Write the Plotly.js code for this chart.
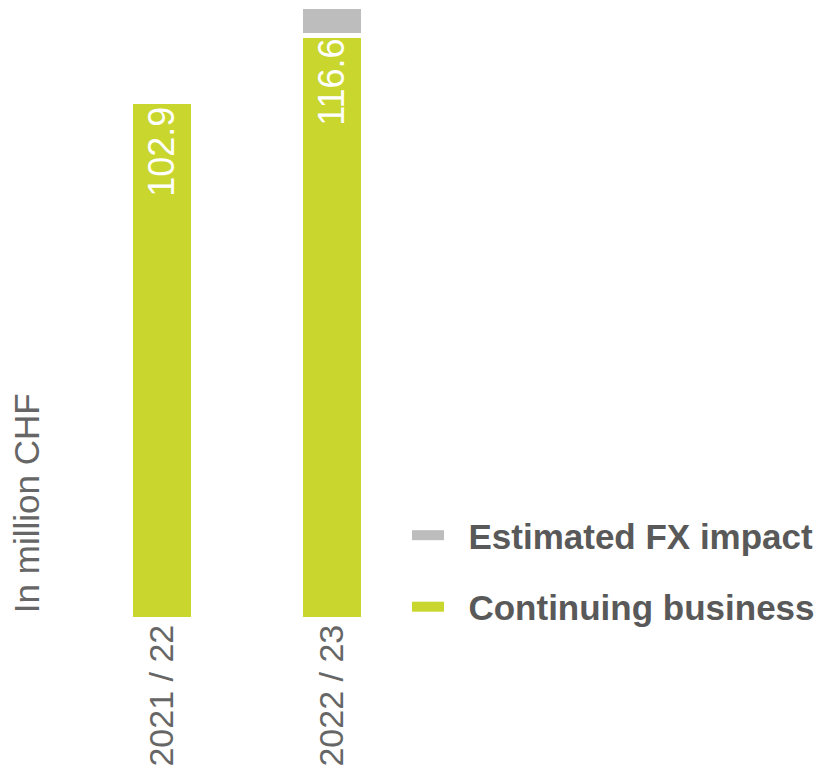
<!DOCTYPE html>
<html>
<head>
<meta charset="utf-8">
<script src="https://cdn.plot.ly/plotly-3.0.1.min.js"></script>
<style>html,body{margin:0;padding:0;background:#fff}#chart{width:820px;height:768px}</style>
</head>
<body>
<div id="chart"></div>
<script>
// Data
const categories = ["2021 / 22", "2022 / 23"];
const continuingBusiness = [102.9, 116.6];
const fxImpact = [null, 5.7];
const seriesNames = ["Continuing business", "Estimated FX impact"];
const yAxisTitle = "In million CHF";

const GREEN = "#c8d62d";
const GREY = "#bdbdbd";
const FONT = "'Liberation Sans', Arial, sans-serif";
const PAD = "\u00a0\u00a0";

const traces = [
  {
    type: "bar",
    x: categories,
    y: continuingBusiness,
    name: seriesNames[0],
    marker: {color: GREEN, line: {width: 0}},
    width: 0.34,
    text: continuingBusiness.map(v => v.toFixed(1)),
    textposition: "inside",
    insidetextanchor: "end",
    textangle: -90,
    textfont: {family: FONT, size: 36, color: "#ffffff"},
    showlegend: false,
    hoverinfo: "skip"
  },
  {
    type: "bar",
    x: categories,
    y: fxImpact,
    name: seriesNames[1],
    marker: {color: GREY, line: {width: 5, color: "#ffffff"}},
    width: 0.369,
    showlegend: false,
    hoverinfo: "skip"
  },
  // legend entries
  {
    type: "scatter", mode: "lines", x: [null], y: [null],
    name: PAD + seriesNames[1], legendgroup: "fx",
    line: {color: GREY, width: 10}, hoverinfo: "skip"
  },
  {
    type: "scatter", mode: "lines", x: [null], y: [null],
    name: PAD + seriesNames[0], legendgroup: "cb",
    line: {color: GREEN, width: 10}, hoverinfo: "skip"
  }
];

const layout = {
  width: 820, height: 768,
  margin: {l: 77, r: 0, t: 0, b: 151, pad: 0},
  paper_bgcolor: "#ffffff", plot_bgcolor: "#ffffff",
  barmode: "stack",
  font: {family: FONT, size: 35, color: "#666666"},
  xaxis: {
    type: "category", range: [-0.5, 3.871],
    showgrid: false, zeroline: false, showline: false, ticks: "",
    tickangle: -90, tickfont: {family: FONT, size: 34, color: "#666666"},
    fixedrange: true
  },
  yaxis: {
    range: [0, 123.7], showgrid: false, zeroline: false, showline: false,
    showticklabels: false, ticks: "", fixedrange: true
  },
  showlegend: true,
  legend: {
    x: 1, xanchor: "right", y: 0.18, yanchor: "top",
    traceorder: "grouped", tracegroupgap: 23,
    font: {family: FONT, size: 35, color: "#595959", weight: "bold"},
    itemwidth: 32, bgcolor: "rgba(0,0,0,0)"
  },
  annotations: [{
    text: yAxisTitle, textangle: -90, showarrow: false,
    xref: "paper", yref: "paper", x: -0.0686, y: 0.003,
    xanchor: "center", yanchor: "bottom",
    font: {family: FONT, size: 35, color: "#666666"}
  }]
};

Plotly.newPlot("chart", traces, layout, {displayModeBar: false, staticPlot: true});
</script>
</body>
</html>
